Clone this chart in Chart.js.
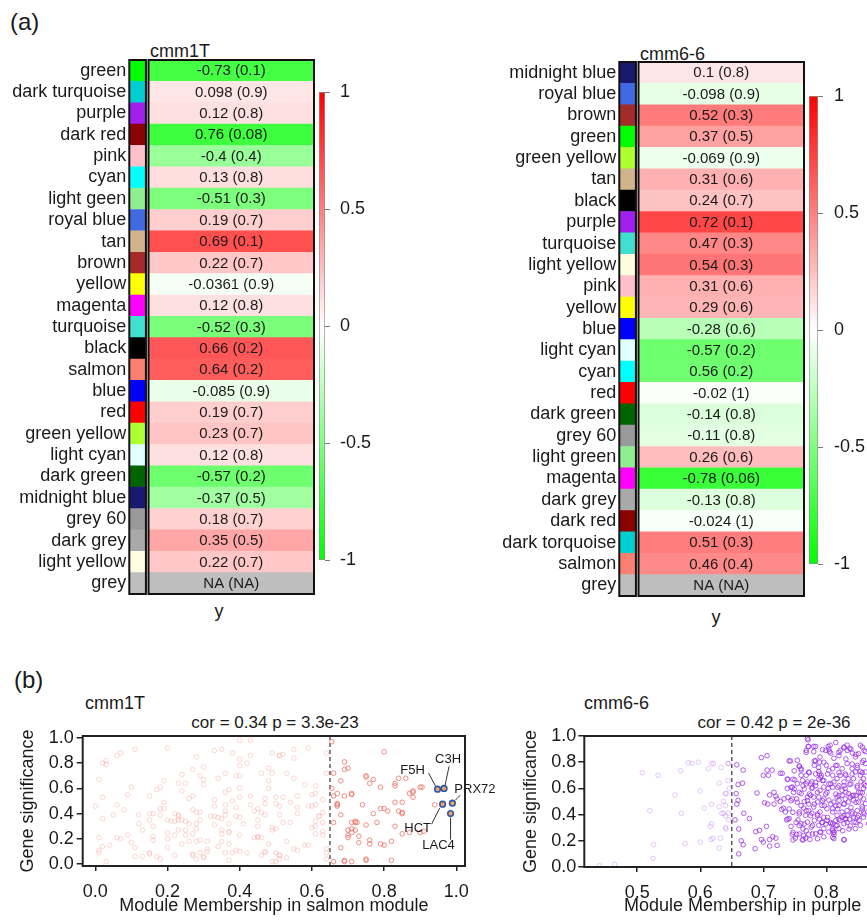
<!DOCTYPE html>
<html>
<head>
<meta charset="utf-8">
<script src="https://cdn.jsdelivr.net/npm/chart.js@4.4.0/dist/chart.umd.min.js"></script>
<style>
  html, body { margin: 0; padding: 0; background: #fff; }
  body { position: relative; width: 867px; height: 921px; overflow: hidden;
         font-family: 'Liberation Sans', Arial, sans-serif; color: #1a1a1a; }
  canvas { position: absolute; }
  .t { position: absolute; white-space: nowrap; line-height: 1; }
</style>
</head>
<body>
<script>
// ---------- (a) module-trait heatmaps ----------
const modules1T = ['green', 'dark turquoise', 'purple', 'dark red', 'pink', 'cyan', 'light geen', 'royal blue',
  'tan', 'brown', 'yellow', 'magenta', 'turquoise', 'black', 'salmon', 'blue', 'red', 'green yellow',
  'light cyan', 'dark green', 'midnight blue', 'grey 60', 'dark grey', 'light yellow', 'grey'];
const swatch1T = ['#00ff00', '#00ced1', '#a020f0', '#8b0000', '#ffc0cb', '#00ffff', '#90ee90', '#4169e1',
  '#d2b48c', '#a52a2a', '#ffff00', '#ff00ff', '#40e0d0', '#000000', '#fa8072', '#0000ff', '#ff0000', '#adff2f',
  '#e0ffff', '#006400', '#191970', '#999999', '#a9a9a9', '#ffffe0', '#bebebe'];
const corr1T = [-0.73, 0.098, 0.12, 0.76, -0.4, 0.13, -0.51, 0.19, 0.69, 0.22, -0.0361, 0.12, -0.52, 0.66,
  0.64, -0.085, 0.19, 0.23, 0.12, -0.57, -0.37, 0.18, 0.35, 0.22, null];
const pval1T = [0.1, 0.9, 0.8, 0.08, 0.4, 0.8, 0.3, 0.7, 0.1, 0.7, 0.9, 0.8, 0.3, 0.2, 0.2, 0.9, 0.7, 0.7,
  0.8, 0.2, 0.5, 0.7, 0.5, 0.7, null];
const greenShaded1T = ['dark red'];   // cells painted green in the figure although r > 0

const modules66 = ['midnight blue', 'royal blue', 'brown', 'green', 'green yellow', 'tan', 'black', 'purple',
  'turquoise', 'light yellow', 'pink', 'yellow', 'blue', 'light cyan', 'cyan', 'red', 'dark green', 'grey 60',
  'light green', 'magenta', 'dark grey', 'dark red', 'dark torquoise', 'salmon', 'grey'];
const swatch66 = ['#191970', '#4169e1', '#a52a2a', '#00ff00', '#adff2f', '#d2b48c', '#000000', '#a020f0',
  '#40e0d0', '#ffffe0', '#ffc0cb', '#ffff00', '#0000ff', '#e0ffff', '#00ffff', '#ff0000', '#006400', '#999999',
  '#90ee90', '#ff00ff', '#a9a9a9', '#8b0000', '#00ced1', '#fa8072', '#bebebe'];
const corr66 = [0.1, -0.098, 0.52, 0.37, -0.069, 0.31, 0.24, 0.72, 0.47, 0.54, 0.31, 0.29, -0.28, -0.57,
  0.56, -0.02, -0.14, -0.11, 0.26, -0.78, -0.13, -0.024, 0.51, 0.46, null];
const pval66 = [0.8, 0.9, 0.3, 0.5, 0.9, 0.6, 0.7, 0.1, 0.3, 0.3, 0.6, 0.6, 0.6, 0.2, 0.2, 1, 0.8, 0.8,
  0.6, 0.06, 0.8, 1, 0.3, 0.4, null];
const greenShaded66 = ['cyan'];

const colorBarTicks = [-1, -0.5, 0, 0.5, 1];

// ---------- (b) gene significance vs module membership ----------
const gsTicks = [0, 0.2, 0.4, 0.6, 0.8, 1.0];
const mmTicks1T = [0, 0.2, 0.4, 0.6, 0.8, 1.0];
const mmTicks66 = [0.5, 0.6, 0.7, 0.8, 0.9, 1.0];
const mmCutoff = 0.65;

const salmonPoints = [
  [0.40,0.98],[0.43,0.98],[0.11,0.91],[0.20,0.92],[0.33,0.90],[0.35,0.91],[0.38,0.88],[0.06,0.86],[0.07,0.88],
  [0.28,0.85],[0.40,0.83],[0.02,0.80],[0.03,0.79],[0.03,0.82],[0.42,0.80],[0.40,0.78],[0.43,0.86],[0.49,0.88],
  [0.51,0.86],[0.30,0.77],[0.27,0.75],[0.24,0.71],[0.29,0.70],[0.36,0.72],[0.39,0.70],[0.40,0.70],[0.46,0.72],
  [0.48,0.76],[0.49,0.72],[0.01,0.67],[0.19,0.66],[0.30,0.67],[0.30,0.63],[0.34,0.68],[0.23,0.64],[0.25,0.64],
  [0.48,0.66],[0.10,0.61],[0.18,0.61],[0.17,0.59],[0.24,0.58],[0.37,0.59],[0.36,0.57],[0.40,0.60],[0.48,0.60],
  [0.02,0.53],[0.09,0.55],[0.15,0.54],[0.27,0.54],[0.26,0.52],[0.33,0.51],[0.38,0.50],[0.40,0.53],[0.43,0.54],
  [0.47,0.52],[0.50,0.53],[0.00,0.46],[0.06,0.47],[0.08,0.43],[0.19,0.49],[0.18,0.44],[0.19,0.44],[0.27,0.43],
  [0.28,0.41],[0.29,0.41],[0.33,0.46],[0.36,0.47],[0.39,0.45],[0.43,0.47],[0.47,0.48],[0.50,0.48],[0.45,0.44],
  [0.44,0.42],[0.46,0.41],[0.47,0.39],[0.51,0.39],[0.05,0.39],[0.12,0.39],[0.15,0.40],[0.16,0.40],[0.18,0.39],
  [0.22,0.40],[0.23,0.39],[0.23,0.38],[0.24,0.35],[0.25,0.34],[0.23,0.35],[0.22,0.34],[0.21,0.34],[0.20,0.35],
  [0.29,0.35],[0.28,0.32],[0.32,0.38],[0.33,0.38],[0.34,0.37],[0.36,0.42],[0.36,0.39],[0.35,0.36],[0.37,0.32],
  [0.39,0.38],[0.40,0.37],[0.45,0.35],[0.41,0.32],[0.45,0.30],[0.49,0.29],[0.50,0.28],[0.49,0.27],[0.02,0.36],
  [0.12,0.32],[0.15,0.35],[0.16,0.30],[0.13,0.27],[0.23,0.27],[0.25,0.27],[0.28,0.28],[0.26,0.32],[0.33,0.31],
  [0.01,0.21],[0.06,0.21],[0.07,0.20],[0.09,0.23],[0.16,0.22],[0.16,0.19],[0.20,0.25],[0.20,0.20],[0.22,0.23],
  [0.25,0.23],[0.27,0.24],[0.29,0.19],[0.28,0.18],[0.24,0.16],[0.26,0.18],[0.31,0.18],[0.35,0.24],[0.35,0.27],
  [0.37,0.25],[0.37,0.26],[0.40,0.23],[0.44,0.21],[0.45,0.22],[0.45,0.21],[0.46,0.21],[0.35,0.18],[0.37,0.16],
  [0.48,0.16],[0.34,0.14],[0.10,0.17],[0.11,0.13],[0.15,0.09],[0.20,0.13],[0.04,0.15],[0.02,0.14],[0.01,0.09],
  [0.01,0.11],[0.31,0.12],[0.31,0.10],[0.29,0.09],[0.27,0.07],[0.27,0.08],[0.28,0.04],[0.30,0.06],[0.30,0.05],
  [0.36,0.09],[0.38,0.09],[0.39,0.11],[0.40,0.10],[0.42,0.09],[0.47,0.10],[0.47,0.09],[0.46,0.07],[0.50,0.09],
  [0.51,0.07],[0.51,0.04],[0.50,0.02],[0.49,0.02],[0.37,0.03],[0.22,0.07],[0.17,0.06],[0.18,0.04],[0.15,0.08],
  [0.13,0.06],[0.11,0.06],[0.03,0.02],
  [0.55,0.91],[0.59,0.92],[0.51,0.86],[0.52,0.87],[0.55,0.84],[0.64,0.88],[0.53,0.72],[0.55,0.68],[0.64,0.72],
  [0.58,0.63],[0.61,0.62],[0.61,0.56],[0.52,0.53],[0.54,0.49],[0.56,0.54],[0.59,0.46],[0.60,0.55],[0.60,0.46],
  [0.56,0.45],[0.51,0.46],[0.61,0.47],[0.56,0.40],[0.62,0.38],[0.54,0.33],[0.52,0.33],[0.61,0.34],[0.60,0.29],
  [0.61,0.30],[0.63,0.33],[0.63,0.26],[0.63,0.23],[0.61,0.24],[0.59,0.15],[0.58,0.15],[0.53,0.18],[0.55,0.12],
  [0.56,0.11],[0.51,0.07],[0.53,0.05],[0.64,0.09],[0.64,0.04],[0.64,0.12],[0.62,0.38],[0.63,0.41],[0.63,0.51],
  [0.655,0.97],[0.80,0.89],[0.69,0.81],[0.69,0.75],[0.70,0.76],[0.75,0.70],[0.75,0.69],[0.68,0.66],[0.77,0.67],
  [0.76,0.64],[0.79,0.61],[0.84,0.68],[0.83,0.64],[0.83,0.62],[0.86,0.68],[0.88,0.57],[0.88,0.58],[0.87,0.56],
  [0.90,0.61],[0.67,0.56],[0.66,0.54],[0.69,0.54],[0.71,0.55],[0.71,0.56],[0.67,0.48],[0.67,0.46],[0.68,0.39],
  [0.74,0.47],[0.79,0.44],[0.80,0.44],[0.81,0.42],[0.84,0.42],[0.85,0.41],[0.85,0.40],[0.83,0.49],[0.85,0.49],
  [0.72,0.34],[0.72,0.33],[0.725,0.33],[0.66,0.33],[0.71,0.28],[0.70,0.27],[0.72,0.27],[0.71,0.25],[0.70,0.23],
  [0.70,0.21],[0.73,0.22],[0.75,0.31],[0.76,0.19],[0.76,0.16],[0.79,0.16],[0.80,0.15],[0.83,0.30],[0.82,0.18],
  [0.73,0.17],[0.68,0.13],[0.66,0.02],[0.69,0.03],[0.69,0.02],[0.71,0.02],[0.75,0.04],[0.75,0.03],[0.82,0.03],
  [0.85,0.24],[0.87,0.25],[0.90,0.25],[0.88,0.53],[0.94,0.47],[0.91,0.26],[0.905,0.61],[0.71,0.33],[0.77,0.40],
  [0.78,0.33],[0.655,0.60],[0.66,0.72],[0.67,0.47]
];

const salmonGenes = ['F5H', 'C3H', 'PRX72', 'HCT', 'LAC4'];
const salmonGeneMM = [0.948, 0.966, 0.989, 0.962, 0.984];
const salmonGeneGS = [0.594, 0.60, 0.483, 0.475, 0.40];

const purplePoints = [
  [0.44,0.01],[0.464,0.02],[0.508,0.72],[0.533,0.70],[0.569,0.735],[0.581,0.796],[0.587,0.79],[0.597,0.80],
  [0.613,0.75],[0.618,0.79],[0.621,0.79],[0.633,0.76],[0.644,0.79],[0.63,0.64],[0.644,0.66],[0.56,0.55],
  [0.60,0.58],[0.64,0.56],[0.637,0.50],[0.52,0.43],[0.57,0.41],[0.606,0.45],[0.618,0.48],[0.63,0.46],
  [0.634,0.41],[0.637,0.41],[0.64,0.39],[0.618,0.33],[0.616,0.31],[0.64,0.30],[0.526,0.17],[0.525,0.066],
  [0.576,0.18],[0.60,0.19],[0.617,0.21],[0.62,0.22],[0.632,0.22],[0.63,0.145],[0.645,0.36],[0.645,0.79],
  [0.646,0.60],[0.641,0.56],[0.64,0.47],[0.645,0.41],[0.641,0.29],
  [0.658,0.78],[0.668,0.74],[0.66,0.63],[0.667,0.64],[0.657,0.56],[0.66,0.51],[0.658,0.48],[0.69,0.565],
  [0.655,0.36],[0.669,0.41],[0.678,0.37],[0.661,0.29],[0.665,0.20],[0.668,0.17],[0.661,0.10],[0.687,0.14],
  [0.688,0.27],[0.694,0.28],[0.705,0.31],[0.697,0.21],[0.70,0.19],[0.71,0.21],[0.715,0.23],[0.72,0.22],
  [0.722,0.165],[0.71,0.16],[0.697,0.835],[0.706,0.85],[0.706,0.74],[0.70,0.70],[0.708,0.70],[0.714,0.74],
  [0.727,0.715],[0.73,0.715],[0.702,0.49],[0.71,0.55],[0.717,0.57],[0.72,0.54],[0.722,0.52],[0.707,0.48],
  [0.717,0.48],[0.729,0.44],[0.732,0.45],[0.727,0.50],[0.733,0.52],[0.738,0.67],[0.743,0.81],[0.75,0.665],
  [0.746,0.61],[0.748,0.57],[0.746,0.52],[0.753,0.52],[0.738,0.60],[0.735,0.42],[0.737,0.36],[0.741,0.37],
  [0.744,0.31],[0.746,0.25],[0.751,0.22],[0.753,0.25],[0.755,0.36],[0.76,0.33],[0.763,0.29],[0.764,0.24],
  [0.763,0.21],[0.767,0.22],[0.772,0.25],[0.774,0.21],[0.757,0.42],[0.764,0.45],[0.765,0.50],[0.772,0.48],
  [0.777,0.41],[0.757,0.77],[0.76,0.74],[0.768,0.70],[0.772,0.725],[0.77,0.98],[0.772,0.92],[0.78,0.92],
  [0.768,0.89],[0.78,0.88],[0.783,0.81],[0.788,0.76],[0.79,0.84],[0.794,0.895],[0.803,0.92],[0.806,0.93],
  [0.805,0.88],[0.796,0.80],[0.80,0.776],[0.812,0.83],[0.82,0.85],[0.822,0.89],[0.828,0.916],[0.833,0.89],
  [0.837,0.906],[0.841,0.87],[0.846,0.84],[0.851,0.865],[0.857,0.916],[0.859,0.814],[0.817,0.776],[0.825,0.75],
  [0.833,0.79],[0.841,0.75],[0.849,0.776],[0.854,0.73],[0.783,0.71],[0.788,0.67],[0.792,0.70],[0.796,0.66],
  [0.777,0.65],[0.77,0.65],[0.763,0.62],[0.777,0.60],[0.783,0.62],[0.79,0.585],[0.796,0.61],[0.801,0.57],
  [0.807,0.636],[0.81,0.70],[0.817,0.674],[0.822,0.70],[0.828,0.65],[0.83,0.60],[0.837,0.63],[0.843,0.674],
  [0.849,0.62],[0.855,0.65],[0.859,0.60],[0.851,0.57],[0.843,0.547],[0.835,0.56],[0.825,0.547],[0.817,0.534],
  [0.812,0.496],[0.82,0.47],[0.828,0.483],[0.835,0.496],[0.843,0.51],[0.851,0.496],[0.859,0.52],[0.857,0.46],
  [0.849,0.43],[0.841,0.42],[0.833,0.43],[0.825,0.42],[0.817,0.394],[0.81,0.42],[0.801,0.445],[0.793,0.47],
  [0.786,0.496],[0.78,0.534],[0.788,0.534],[0.796,0.52],[0.804,0.51],[0.79,0.42],[0.786,0.394],[0.796,0.38],
  [0.801,0.356],[0.793,0.34],[0.788,0.318],[0.807,0.33],[0.815,0.356],[0.822,0.356],[0.83,0.37],[0.837,0.364],
  [0.844,0.343],[0.852,0.356],[0.859,0.38],[0.854,0.318],[0.846,0.293],[0.838,0.313],[0.828,0.33],[0.82,0.293],
  [0.812,0.267],[0.804,0.267],[0.796,0.293],[0.79,0.267],[0.783,0.254],[0.786,0.216],[0.796,0.23],[0.81,0.28],
  [0.828,0.21],[0.812,0.216],[0.78,0.458],[0.772,0.43],[0.767,0.394],[0.77,0.343],[0.776,0.305],[0.781,0.356],
  [0.775,0.547],[0.77,0.534],[0.76,0.56],[0.754,0.636],[0.76,0.70],[0.781,0.776],[0.788,0.73],[0.804,0.738],
  [0.812,0.65],[0.82,0.62],[0.803,0.60],[0.825,0.585],[0.846,0.725],[0.83,0.71],[0.835,0.674],[0.854,0.70],
  [0.859,0.674],[0.862,0.483],[0.859,0.42],[0.851,0.394],[0.843,0.38],[0.833,0.394],[0.825,0.38],[0.817,0.318],
  [0.81,0.445],[0.82,0.51],[0.83,0.52],[0.838,0.534],[0.847,0.547],[0.854,0.534],[0.857,0.567],[0.862,0.62],
  [0.862,0.725],[0.862,0.79],[0.862,0.88],[0.868,0.55],[0.868,0.44],[0.869,0.66],[0.867,0.33],
  [0.771,0.97],[0.771,0.92],[0.783,0.92],[0.804,0.90],[0.807,0.87],[0.815,0.95],[0.828,0.91],[0.833,0.93],
  [0.839,0.90],[0.854,0.93],[0.86,0.89],[0.768,0.875],[0.799,0.89],[0.82,0.875],[0.847,0.86],[0.831,0.825],
  [0.741,0.81],[0.754,0.815],[0.781,0.81],[0.789,0.80],[0.815,0.775],[0.81,0.75],[0.841,0.786],[0.849,0.76],
  [0.857,0.80],[0.757,0.77],[0.76,0.75],[0.749,0.735],[0.773,0.72],[0.789,0.71],[0.791,0.684],[0.802,0.71],
  [0.82,0.72],[0.831,0.70],[0.841,0.71],[0.857,0.72],[0.739,0.67],[0.747,0.67],[0.762,0.66],[0.768,0.634],
  [0.775,0.634],[0.778,0.608],[0.783,0.646],[0.794,0.66],[0.804,0.634],[0.81,0.608],[0.818,0.608],[0.828,0.62],
  [0.839,0.634],[0.849,0.608],[0.86,0.634],[0.744,0.608],[0.749,0.595],[0.757,0.57],[0.765,0.595],[0.773,0.557],
  [0.786,0.57],[0.799,0.557],[0.815,0.557],[0.82,0.545],[0.831,0.57],[0.841,0.545],[0.854,0.57],[0.739,0.532],
  [0.744,0.506],[0.754,0.494],[0.76,0.468],[0.77,0.506],[0.781,0.48],[0.794,0.506],[0.797,0.468],[0.807,0.48],
  [0.815,0.468],[0.818,0.443],[0.828,0.48],[0.839,0.455],[0.847,0.494],[0.857,0.443],[0.741,0.443],[0.747,0.417],
  [0.757,0.405],[0.768,0.43],[0.775,0.392],[0.786,0.405],[0.789,0.366],[0.794,0.34],[0.802,0.379],[0.807,0.34],
  [0.81,0.328],[0.82,0.366],[0.828,0.392],[0.831,0.366],[0.841,0.405],[0.849,0.379],[0.86,0.405],[0.739,0.366],
  [0.752,0.34],[0.757,0.316],[0.765,0.328],[0.778,0.316],[0.799,0.328],[0.815,0.316],[0.833,0.34],[0.847,0.34],
  [0.747,0.265],[0.757,0.252],[0.768,0.277],[0.778,0.252],[0.791,0.265],[0.81,0.29],[0.812,0.265],[0.826,0.277],
  [0.836,0.29],[0.747,0.206],[0.762,0.206],[0.81,0.226],[0.812,0.247],[0.828,0.206]
];

// ---------- helpers ----------
Chart.defaults.font.family = "'Liberation Sans', Arial, sans-serif";
Chart.defaults.color = '#1a1a1a';

const SWATCH_SPAN = [0, 0.09];
const CELL_SPAN = [0.104, 1];

function mount(left, top, width, height) {
  const c = document.createElement('canvas');
  c.width = width; c.height = height;
  c.style.left = left + 'px'; c.style.top = top + 'px';
  document.body.appendChild(c);
  return c;
}

function text(str, x, y, size, align) {
  const d = document.createElement('div');
  d.className = 't';
  d.textContent = str;
  d.style.fontSize = size + 'px';
  d.style.left = x + 'px';
  d.style.top = y + 'px';
  d.style.transform = align === 'center' ? 'translate(-50%,-50%)' : 'translateY(-50%)';
  document.body.appendChild(d);
}

// scales reserve room for half a tick label at their ends; the layout padding handles that here
function noEdgePadding(s) {
  s.paddingTop = 0; s.paddingBottom = 0; s.paddingLeft = 0; s.paddingRight = 0;
}

function heatColor(v) {
  if (v == null) return '#bebebe';
  if (v >= 0) { const g = Math.round(255 * (1 - v)); return `rgb(255,${g},${g})`; }
  const g = Math.round(255 * (1 + v));
  return `rgb(${g},255,${g})`;
}

const cellPlugin = {
  id: 'cells',
  afterDatasetsDraw(chart) {
    const { ctx, chartArea } = chart;
    const ds = chart.data.datasets[1];
    const meta = chart.getDatasetMeta(1);
    ctx.save();
    ctx.font = "15px 'Liberation Sans', Arial, sans-serif";
    ctx.fillStyle = '#1a1a1a';
    ctx.textAlign = 'center';
    ctx.textBaseline = 'middle';
    meta.data.forEach((el, i) => ctx.fillText(ds.cellText[i], (el.x + el.base) / 2, el.y + 0.5));
    const xs = chart.scales.x;
    ctx.strokeStyle = '#111';
    ctx.lineWidth = 2;
    [SWATCH_SPAN, CELL_SPAN].forEach(([a, b]) => {
      const l = xs.getPixelForValue(a), r = xs.getPixelForValue(b);
      ctx.strokeRect(l, chartArea.top, r - l, chartArea.bottom - chartArea.top);
    });
    ctx.restore();
  }
};

function heatChart(canvas, names, swatches, corr, pvals, greenShaded) {
  const shade = names.map((n, i) => corr[i] == null ? null : (greenShaded.includes(n) ? -Math.abs(corr[i]) : corr[i]));
  return new Chart(canvas, {
    type: 'bar',
    data: {
      labels: names,
      datasets: [
        { data: names.map(() => SWATCH_SPAN), backgroundColor: swatches, grouped: false },
        { data: names.map(() => CELL_SPAN), backgroundColor: shade.map(heatColor), grouped: false,
          cellText: corr.map((r, i) => r == null ? 'NA (NA)' : `${r} (${pvals[i]})`) }
      ]
    },
    options: {
      indexAxis: 'y',
      responsive: false,
      animation: false,
      layout: { padding: { top: 2, bottom: 2, right: 3, left: 0 } },
      datasets: { bar: { barPercentage: 1, categoryPercentage: 1, borderWidth: 0 } },
      plugins: { legend: { display: false }, tooltip: { enabled: false } },
      scales: {
        x: { display: false, min: 0, max: 1 },
        y: {
          grid: { display: false, drawTicks: false },
          border: { display: false },
          ticks: { padding: 3, font: { size: 18 }, autoSkip: false },
          afterFit(s) { s.width = 129.3; noEdgePadding(s); }
        }
      }
    },
    plugins: [cellPlugin]
  });
}

function colorBar(canvas, labelPad) {
  return new Chart(canvas, {
    type: 'bar',
    data: {
      labels: [''],
      datasets: [{
        data: [[-1, 1]],
        backgroundColor(c) {
          const area = c.chart.chartArea;
          if (!area) return '#fff';
          const g = c.chart.ctx.createLinearGradient(0, area.bottom, 0, area.top);
          g.addColorStop(0, '#00ff00');
          g.addColorStop(0.5, '#ffffff');
          g.addColorStop(1, '#ff0000');
          return g;
        },
        borderColor: '#8f8f8f',
        borderWidth: 1,
        borderSkipped: false,
        barPercentage: 1,
        categoryPercentage: 1
      }]
    },
    options: {
      responsive: false,
      animation: false,
      layout: { padding: { top: 12, bottom: 12, left: 1, right: 0 } },
      plugins: { legend: { display: false }, tooltip: { enabled: false } },
      scales: {
        x: { display: false },
        y: {
          position: 'right', min: -1, max: 1,
          afterBuildTicks(s) { s.ticks = colorBarTicks.map(v => ({ value: v })); },
          grid: { drawOnChartArea: false, tickLength: 5, color: '#777' },
          border: { display: false },
          ticks: { padding: labelPad, font: { size: 18 }, callback: v => String(v) },
          afterFit(s) { s.width = 50; noEdgePadding(s); }
        }
      }
    }
  });
}

const scatterDecor = {
  id: 'scatterDecor',
  beforeDatasetsDraw(chart) {
    const { ctx, chartArea } = chart;
    const x = chart.scales.x.getPixelForValue(mmCutoff);
    ctx.save();
    ctx.strokeStyle = '#444';
    ctx.lineWidth = 1.3;
    ctx.setLineDash([4, 3]);
    ctx.beginPath();
    ctx.moveTo(x, chartArea.top);
    ctx.lineTo(x, chartArea.bottom);
    ctx.stroke();
    ctx.restore();
  },
  afterDatasetsDraw(chart, args, opts) {
    const { ctx, chartArea } = chart;
    ctx.save();
    if (opts.genes) {
      const meta = chart.getDatasetMeta(0);
      ctx.strokeStyle = '#333';
      ctx.lineWidth = 1;
      ctx.fillStyle = '#1a1a1a';
      ctx.font = "13px 'Liberation Sans', Arial, sans-serif";
      ctx.textBaseline = 'middle';
      opts.genes.forEach((g, i) => {
        const p = meta.data[i];
        ctx.beginPath();
        ctx.moveTo(p.x + g.line[0], p.y + g.line[1]);
        ctx.lineTo(p.x + g.line[2], p.y + g.line[3]);
        ctx.stroke();
        ctx.textAlign = g.align;
        ctx.fillText(chart.data.datasets[0].geneNames[i], p.x + g.at[0], p.y + g.at[1]);
      });
    }
    ctx.strokeStyle = '#222';
    ctx.lineWidth = 2;
    ctx.strokeRect(chartArea.left, chartArea.top, chartArea.right - chartArea.left, chartArea.bottom - chartArea.top);
    ctx.restore();
  }
};

function scatterChart(canvas, o) {
  const datasets = [];
  if (o.genes) {
    datasets.push({
      data: o.genes.mm.map((x, i) => ({ x, y: o.genes.gs[i] })),
      geneNames: o.genes.names,
      pointRadius: 2.8, pointBorderWidth: 1.6,
      pointBackgroundColor: '#f2a35e', pointBorderColor: '#2f58a8'
    });
  }
  datasets.push({
    data: o.points.map(([x, y]) => ({ x, y })),
    pointRadius: 2.3, pointBorderWidth: 1,
    pointBackgroundColor: 'rgba(0,0,0,0)',
    pointBorderColor: c => (c.raw && c.raw.x >= mmCutoff) ? o.strong : o.pale
  });
  const tickGrid = { drawOnChartArea: false, tickLength: 6, color: '#222', lineWidth: 1.5 };
  return new Chart(canvas, {
    type: 'scatter',
    data: { datasets },
    options: {
      responsive: false,
      animation: false,
      layout: { padding: { top: 12, right: o.padRight, left: 0, bottom: 0 } },
      plugins: { legend: { display: false }, tooltip: { enabled: false },
                 scatterDecor: { genes: o.geneLabels } },
      scales: {
        x: {
          type: 'linear', min: o.xMin, max: o.xMax,
          afterBuildTicks(s) { s.ticks = o.xTicks.map(v => ({ value: v })); },
          ticks: { padding: 10, font: { size: 18 }, callback: v => v.toFixed(1) },
          grid: Object.assign({}, tickGrid, { tickLength: 5 }),
          border: { display: false },
          title: { display: true, text: o.xTitle, font: { size: 18 }, padding: { top: 0, bottom: 4 } },
          afterFit(s) { s.height = o.xAxisHeight; noEdgePadding(s); }
        },
        y: {
          min: o.yMin, max: o.yMax,
          afterBuildTicks(s) { s.ticks = gsTicks.map(v => ({ value: v })); },
          ticks: { padding: o.yTickPad, font: { size: 18 }, callback: v => v.toFixed(1) },
          grid: tickGrid,
          border: { display: false },
          title: { display: true, text: 'Gene significance', font: { size: 18 }, padding: { top: o.yTitlePad, bottom: 0 } },
          afterFit(s) { s.width = o.yAxisWidth; noEdgePadding(s); }
        }
      }
    },
    plugins: [scatterDecor]
  });
}

// ---------- panel (a) ----------
text('(a)', 10, 22, 24);
text('cmm1T', 150, 51, 18);
text('cmm6-6', 640, 54, 18);
text('y', 219, 611, 18, 'center');
text('y', 716, 617, 18, 'center');

heatChart(mount(0, 58, 317, 538), modules1T, swatch1T, corr1T, pval1T, greenShaded1T);
heatChart(mount(490, 60.3, 317, 538), modules66, swatch66, corr66, pval66, greenShaded66);
colorBar(mount(318, 80.3, 57, 492.4), 10);
colorBar(mount(808, 84, 60, 492), 11);

// ---------- panel (b) ----------
text('(b)', 14, 680, 24);
text('cmm1T', 85, 703, 18);
text('cor = 0.34 p = 3.3e-23', 275, 722, 17, 'center');
text('cmm6-6', 584, 703, 18);
text('cor = 0.42 p = 2e-36', 774, 722, 17, 'center');

scatterChart(mount(0, 724, 500, 197), {
  points: salmonPoints,
  strong: 'rgba(238,112,98,0.78)', pale: 'rgba(246,150,140,0.38)',
  genes: { names: salmonGenes, mm: salmonGeneMM, gs: salmonGeneGS },
  geneLabels: [
    { at: [-25, -19], align: 'center', line: [-9, -16, -2, -3] },
    { at: [4, -29], align: 'center', line: [5, -22, 1, -3] },
    { at: [2, -14], align: 'left', line: [3, -3, 8, -8] },
    { at: [-25, 24], align: 'center', line: [-3, 4, -11, 20] },
    { at: [-12, 32], align: 'center', line: [0, 4, 0, 26] }
  ],
  xMin: -0.035, xMax: 1.024, yMin: -0.015, yMax: 1.015,
  xTicks: mmTicks1T, xTitle: 'Module Membership in salmon module',
  padRight: 35, yAxisWidth: 82.7, xAxisHeight: 55, yTickPad: 3, yTitlePad: 17
});

scatterChart(mount(490, 724, 480, 197), {
  points: purplePoints,
  strong: 'rgba(150,40,232,0.75)', pale: 'rgba(178,100,245,0.35)',
  xMin: 0.416, xMax: 1.02, yMin: 0, yMax: 1,
  xTicks: mmTicks66, xTitle: 'Module Membership in purple module',
  padRight: 3, yAxisWidth: 94.3, xAxisHeight: 54, yTickPad: 2, yTitlePad: 30
});
</script>
</body>
</html>
